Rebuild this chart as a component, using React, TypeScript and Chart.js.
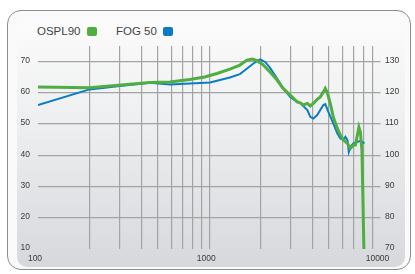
import { useEffect, useRef } from "react";
import { Chart, registerables } from "chart.js";

Chart.register(...registerables);

const seriesNames = ["OSPL90", "FOG 50"];

const ospl90Freq = [100, 200, 450, 590, 770, 940, 1110, 1320, 1510, 1660, 1780, 1900, 2060, 2270, 2490, 2700, 2970, 3260, 3400, 3540, 3740, 3890, 4050, 4270, 4450, 4640, 4760, 4890, 5100, 5300, 5600, 5830, 6070, 6410, 6670, 6950, 7140, 7330, 7480, 7630, 7790, 8000];
const ospl90Db = [121.9, 121.6, 123.3, 123.5, 124.3, 125.1, 126.2, 127.6, 128.9, 130.5, 130.8, 130.3, 129.0, 126.6, 124.1, 121.4, 119.3, 117.1, 116.8, 116.1, 116.6, 115.8, 116.6, 117.9, 118.7, 120.3, 121.4, 120.1, 116.4, 112.3, 108.6, 106.5, 104.9, 103.8, 102.2, 103.3, 103.3, 106.5, 109.0, 107.4, 101.7, 70];

const fog50Freq = [100, 200, 300, 450, 590, 770, 1010, 1155, 1320, 1510, 1620, 1780, 1900, 1980, 2120, 2270, 2490, 2700, 2970, 3260, 3400, 3740, 3890, 4050, 4270, 4450, 4640, 4760, 4960, 5300, 5600, 5830, 6070, 6240, 6410, 6530, 6670, 6950, 7330, 7630, 8060];
const fog50Db = [116.1, 121.1, 122.2, 123.2, 122.7, 123.0, 123.3, 124.1, 124.9, 126.0, 127.3, 129.1, 130.2, 130.7, 129.9, 127.9, 124.6, 121.4, 118.7, 117.1, 116.7, 114.5, 112.3, 111.8, 112.9, 114.5, 116.1, 116.4, 113.9, 110.2, 107.0, 105.4, 104.9, 105.9, 104.9, 101.1, 102.7, 103.8, 104.3, 104.6, 103.8];

const leftTicks = [10, 20, 30, 40, 50, 60, 70];
const rightTicks = [70, 80, 90, 100, 110, 120, 130];
const xGridValues = [100, 200, 300, 400, 500, 600, 700, 800, 900, 1000, 2000, 3000, 4000, 5000, 6000, 7000, 8000, 9000, 10000];
const xLabels = [100, 1000, 10000];

const GREEN = "#4fae3f";
const BLUE = "#0a7cc6";
const GRID = "#a3a3a3";
const TEXT = "#3a3a3a";
const FONT = "'Liberation Sans', Arial, sans-serif";

export default function App() {
  const ref = useRef<HTMLCanvasElement>(null);

  useEffect(() => {
    const tickFont = { family: FONT, size: 8.5 };
    const chart = new Chart(ref.current!, {
      type: "line",
      data: {
        datasets: [
          {
            label: seriesNames[0],
            data: ospl90Freq.map((f, i) => ({ x: f, y: ospl90Db[i] })),
            borderColor: GREEN,
            borderWidth: 3,
            pointRadius: 0,
            tension: 0,
            yAxisID: "y1",
            order: 0,
          },
          {
            label: seriesNames[1],
            data: fog50Freq.map((f, i) => ({ x: f, y: fog50Db[i] })),
            borderColor: BLUE,
            borderWidth: 2,
            pointRadius: 0,
            tension: 0,
            yAxisID: "y1",
            order: 1,
          },
        ],
      },
      options: {
        animation: false,
        responsive: false,
        devicePixelRatio: 1,
        layout: { padding: { top: 46, left: 0, right: 0, bottom: 0 } },
        plugins: { legend: { display: false }, tooltip: { enabled: false } },
        scales: {
          x: {
            type: "logarithmic",
            min: 100,
            max: 10000,
            afterBuildTicks: (s: any) => {
              s.ticks = xGridValues.map((v) => ({ value: v }));
            },
            afterFit: (s: any) => {
              s.height = 25;
            },
            grid: {
              color: (ctx: any) =>
                ctx.tick && (ctx.tick.value === 100 || ctx.tick.value === 10000) ? "transparent" : GRID,
              lineWidth: 1.2,
              drawTicks: false,
            },
            border: { display: false },
            ticks: {
              autoSkip: false,
              maxRotation: 0,
              padding: 5,
              labelOffset: -3,
              font: tickFont,
              color: TEXT,
              callback: (v: any) => (xLabels.includes(Number(v)) ? String(v) : ""),
            },
          },
          y: {
            position: "left",
            min: 10,
            max: 75,
            afterBuildTicks: (s: any) => {
              s.ticks = leftTicks.map((v) => ({ value: v }));
            },
            afterFit: (s: any) => {
              s.width = 38;
            },
            grid: {
              color: (ctx: any) => (ctx.tick && ctx.tick.value === 10 ? "transparent" : GRID),
              lineWidth: 1.2,
              drawTicks: false,
            },
            border: { display: false },
            ticks: { padding: 8, labelOffset: -1, font: tickFont, color: TEXT },
          },
          y1: {
            position: "right",
            min: 70,
            max: 135,
            afterBuildTicks: (s: any) => {
              s.ticks = rightTicks.map((v) => ({ value: v }));
            },
            afterFit: (s: any) => {
              s.width = 34.5;
            },
            grid: { display: false, drawTicks: false },
            border: { display: false },
            ticks: { padding: 4.5, labelOffset: -1, font: tickFont, color: TEXT },
          },
        },
      },
    } as any);
    return () => chart.destroy();
  }, []);

  const legendColors = [GREEN, BLUE];
  const legendLeft = [37, 116];
  const boxLeft = [87, 163];

  return (
    <div style={{ position: "fixed", left: 0, top: 0, width: 415, height: 274, background: "#ffffff", overflow: "hidden" }}>
      <div
        style={{
          position: "absolute",
          left: 7,
          top: 10,
          width: 402,
          height: 258,
          border: "1.6px solid #8d8d8d",
          borderRadius: 14,
          background: "#fafafa",
        }}
      />
      <div
        style={{
          position: "absolute",
          left: 17,
          top: 22,
          width: 388,
          height: 245,
          borderRadius: 10,
          background: "linear-gradient(#fbfbfb, #eeeff0 40%, #d6d8dc)",
        }}
      />
      {seriesNames.map((name, i) => (
        <div key={name}>
          <span
            style={{
              position: "absolute",
              left: legendLeft[i],
              top: 25,
              fontFamily: FONT,
              fontSize: 11.5,
              lineHeight: "12px",
              color: "#444",
              whiteSpace: "nowrap",
            }}
          >
            {name}
          </span>
          <span
            style={{
              position: "absolute",
              left: boxLeft[i],
              top: 26.5,
              width: 10,
              height: 9,
              borderRadius: 2,
              background: legendColors[i],
            }}
          />
        </div>
      ))}
      <canvas
        ref={ref}
        width={415}
        height={274}
        style={{ position: "absolute", left: 0, top: 0, width: 415, height: 274 }}
      />
    </div>
  );
}
